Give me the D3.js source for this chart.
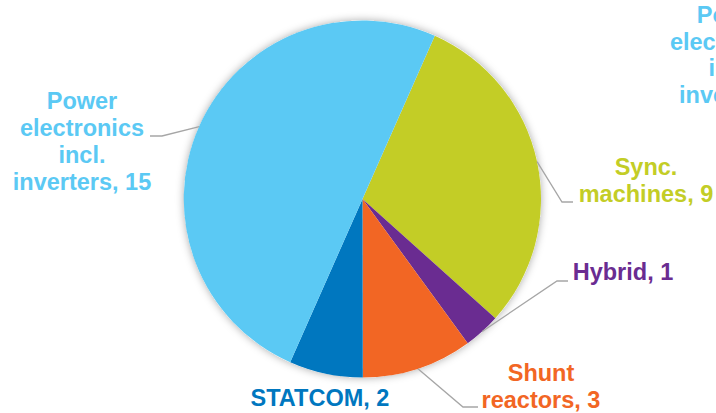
<!DOCTYPE html>
<html>
<head>
<meta charset="utf-8">
<script src="https://cdn.jsdelivr.net/npm/d3@7"></script>
<style>
  html, body { margin: 0; padding: 0; background: #fff; }
  svg { display: block; font-family: "Liberation Sans", Arial, sans-serif; font-weight: bold; }
</style>
</head>
<body>
<div id="chart"></div>
<script>
// slice order, clockwise from the top-right
const categories = ['Sync. machines', 'Hybrid', 'Shunt reactors', 'STATCOM', 'Power electronics incl. inverters'];
const values = [9, 1, 3, 2, 15];
const colors = ['#C3CD26', '#6A2C91', '#F26624', '#0077BF', '#5BC9F4'];
const labelLines = [
  ['Sync.', 'machines, 9'],
  ['Hybrid, 1'],
  ['Shunt', 'reactors, 3'],
  ['STATCOM, 2'],
  ['Power', 'electronics', 'incl.', 'inverters, 15']
];

const width = 716, height = 413;
const cx = 362.5, cy = 199, radius = 178.5;
const fontSize = 23.5, lineH = 27;

// label anchor (first baseline) and leader elbow/end, null = no leader
const layout = [
  {x: 646, y: 175, elbow: [562, 202], end: [573, 202]},
  {x: 623, y: 280, elbow: [557, 281], end: [568, 281]},
  {x: 541, y: 381, elbow: [463, 407], end: [478, 407]},
  {x: 320, y: 406, elbow: null},
  {x: 82, y: 109, elbow: [162, 136], end: [150, 136]}
];

const svg = d3.select('#chart').append('svg')
  .attr('width', width)
  .attr('height', height)
  .attr('viewBox', `0 0 ${width} ${height}`);

const defs = svg.append('defs');
const filter = defs.append('filter')
  .attr('id', 'shadow')
  .attr('x', '-20%').attr('y', '-20%')
  .attr('width', '140%').attr('height', '140%');
filter.append('feDropShadow')
  .attr('dx', 0).attr('dy', 0)
  .attr('stdDeviation', 4)
  .attr('flood-color', '#000')
  .attr('flood-opacity', 0.35);

const startAngle = 23.9 * Math.PI / 180;
const pie = d3.pie()
  .sort(null)
  .value(d => d)
  .startAngle(startAngle)
  .endAngle(startAngle + 2 * Math.PI);

const arcs = pie(values);
const arc = d3.arc().innerRadius(0).outerRadius(radius);

const g = svg.append('g').attr('transform', `translate(${cx},${cy})`);

// shadow under the whole pie
g.append('circle')
  .attr('r', radius)
  .attr('fill', '#fff')
  .attr('filter', 'url(#shadow)');

g.selectAll('path.slice')
  .data(arcs)
  .join('path')
  .attr('class', 'slice')
  .attr('d', arc)
  .attr('fill', (d, i) => colors[i]);

// leader lines from slice mid-point on the rim
const rim = d => {
  const a = (d.startAngle + d.endAngle) / 2;
  return [cx + radius * Math.sin(a), cy - radius * Math.cos(a)];
};

svg.selectAll('polyline.leader')
  .data(arcs.filter((d, i) => layout[i].elbow))
  .join('polyline')
  .attr('class', 'leader')
  .attr('fill', 'none')
  .attr('stroke', '#A6A6A6')
  .attr('stroke-width', 1.3)
  .attr('points', d => {
    const L = layout[d.index];
    return [rim(d), L.elbow, L.end].map(p => p.join(',')).join(' ');
  });

const labels = svg.selectAll('text.label')
  .data(arcs)
  .join('text')
  .attr('class', 'label')
  .attr('text-anchor', 'middle')
  .attr('font-size', fontSize)
  .attr('fill', (d, i) => colors[i]);

labels.each(function(d, i) {
  const L = layout[i];
  d3.select(this).selectAll('tspan')
    .data(labelLines[i])
    .join('tspan')
    .attr('x', L.x)
    .attr('y', (t, j) => L.y + j * lineH)
    .text(t => t);
});

// clipped duplicate of the big label at the right edge
const ghost = ['Power', 'electronics', 'incl.', 'inverters,', '15'];
svg.append('text')
  .attr('text-anchor', 'middle')
  .attr('font-size', fontSize)
  .attr('fill', colors[4])
  .selectAll('tspan')
  .data(ghost)
  .join('tspan')
  .attr('x', 732)
  .attr('y', (t, j) => 23 + j * 26.5)
  .text(t => t);
</script>
</body>
</html>
